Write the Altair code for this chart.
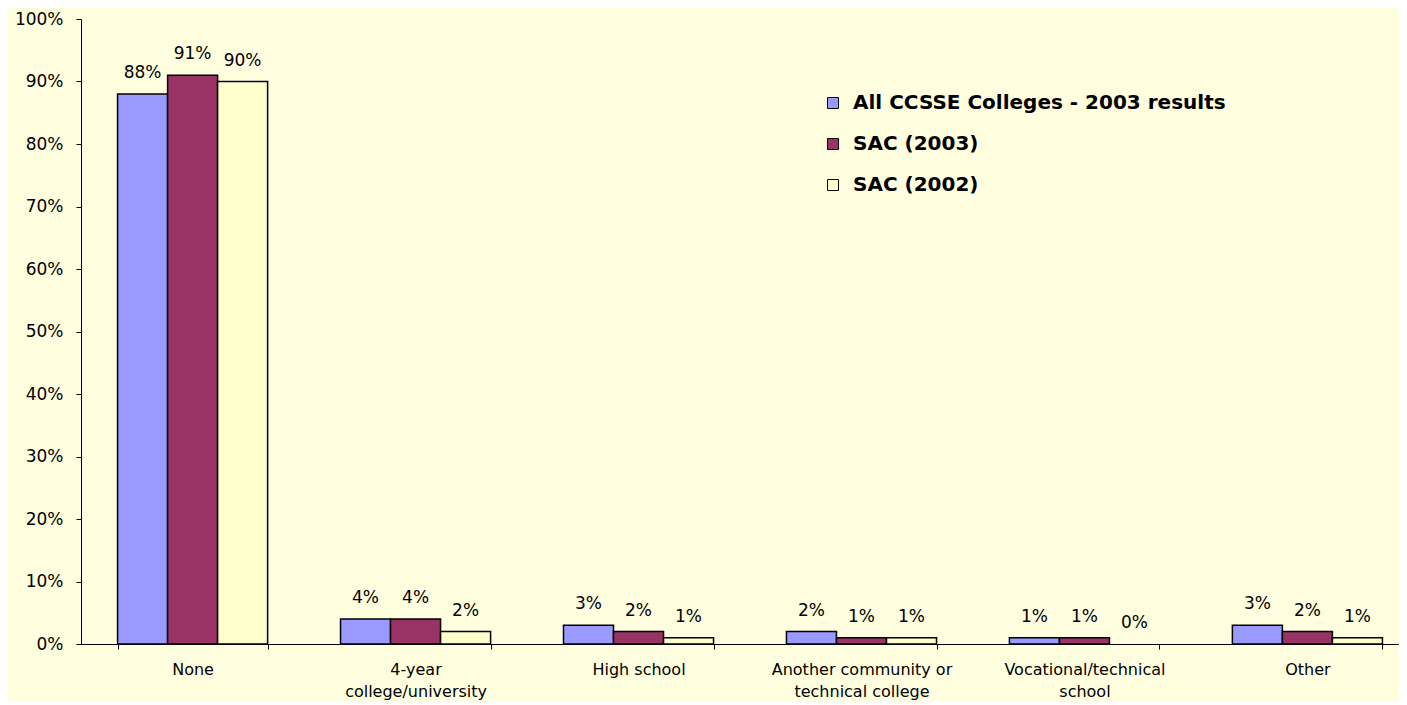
import altair as alt
import pandas as pd

categories = ["None", "4-year|college/university", "High school",
              "Another community or|technical college", "Vocational/technical|school", "Other"]
series = ["All CCSSE Colleges - 2003 results", "SAC (2003)", "SAC (2002)"]
all_ccsse = [88, 4, 3, 2, 1, 3]
sac_2003 = [91, 4, 2, 1, 1, 2]
sac_2002 = [90, 2, 1, 1, 0, 1]
colors = ["#9999FF", "#993366", "#FFFFCC"]
y_ticks = [0, 0.1, 0.2, 0.3, 0.4, 0.5, 0.6, 0.7, 0.8, 0.9, 1.0]

rows = []
for i, c in enumerate(categories):
    for s, vals in zip(series, [all_ccsse, sac_2003, sac_2002]):
        rows.append({"category": c, "series": s, "value": vals[i] / 100})
df = pd.DataFrame(rows)

FONT = "DejaVu Sans"

x = alt.X("category:N", sort=categories, title=None,
          scale=alt.Scale(range=[0, 1338], paddingInner=0.327, paddingOuter=0.164),
          axis=alt.Axis(labelAngle=0, tickBand="extent", tickSize=5, tickColor="black",
                        domainColor="black", labelExpr="split(datum.label, '|')",
                        labelLineHeight=22, labelPadding=12, labelFont=FONT, labelLimit=0,
                        labelFontSize=16, labelColor="black", grid=False))
xo = alt.XOffset("series:N", sort=series, scale=alt.Scale(paddingInner=0, paddingOuter=0))
y = alt.Y("value:Q", title=None,
          scale=alt.Scale(domain=[0, 1], nice=False),
          axis=alt.Axis(format=".0%", values=y_ticks, tickSize=5, tickColor="black",
                        domainColor="black", labelPadding=13, labelFont=FONT,
                        labelFontSize=17, labelColor="black", grid=False))

bars = alt.Chart(df).mark_bar(stroke="black", strokeWidth=1.5).encode(
    x=x, xOffset=xo, y=y,
    color=alt.Color("series:N", sort=series,
                    scale=alt.Scale(domain=series, range=colors),
                    legend=alt.Legend(orient="none", legendX=742, legendY=74, title=None,
                                      symbolType="square", symbolSize=121,
                                      symbolStrokeColor="black", symbolStrokeWidth=1,
                                      labelFont=FONT, labelFontSize=20, labelFontWeight="bold",
                                      labelColor="black", rowPadding=21, padding=0,
                                      labelOffset=10, labelLimit=0)),
    strokeOpacity=alt.condition("datum.value == 0", alt.value(0), alt.value(1)),
)

labels = alt.Chart(df).mark_text(baseline="alphabetic", dy=-16, font=FONT,
                                 fontSize=17, color="black").encode(
    x=x, xOffset=xo, y=y,
    text=alt.Text("value:Q", format=".0%"),
)

chart = alt.layer(bars, labels).properties(
    width=1318, height=625,
    autosize=alt.AutoSizeParams(type="none"),
    padding={"left": 73, "top": 11, "right": 0, "bottom": 58},
).configure(background="#FFFFE0").configure_view(stroke=None)

chart.save("out.html", embed_options={"renderer": "svg", "actions": False})
